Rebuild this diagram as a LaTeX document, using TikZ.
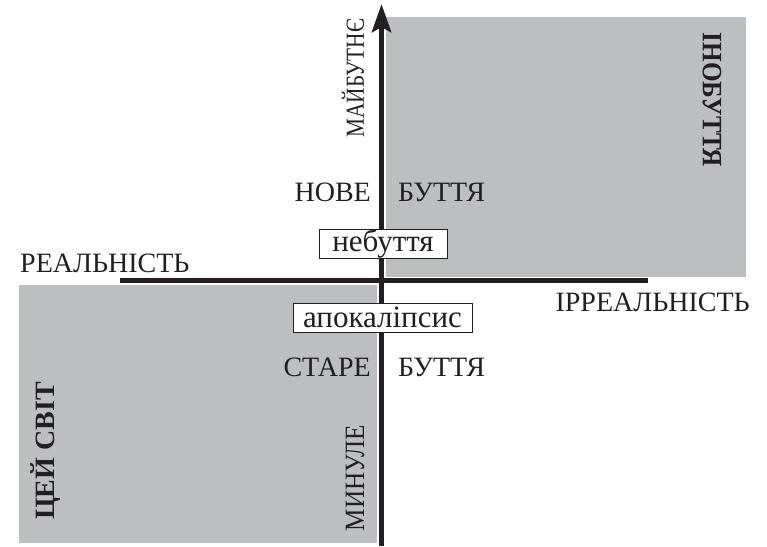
\documentclass[tikz,border=0pt]{standalone}
\usepackage{fontspec}
\setmainfont{Liberation Serif}
\usetikzlibrary{arrows.meta}
\definecolor{field}{HTML}{BCBEC0}
\definecolor{ink}{HTML}{231F20}
\newcommand{\squeeze}[2]{\scalebox{#1}[1]{#2}}
\begin{document}
\begin{tikzpicture}[x=1pt,y=-1pt,
  every node/.style={inner sep=0pt,text=ink,font=\fontsize{28}{32}\selectfont},
  axis/.style={draw=ink,line width=5.5pt},
  zone/.style={fill=field,draw=none},
  tag/.style={draw=ink,line width=0.9pt,fill=white,minimum height=29pt,
    font=\fontsize{31}{34}\selectfont},
  heavy/.style={font=\fontsize{28}{32}\selectfont\bfseries}]
\useasboundingbox (0,0) rectangle (767,546);
% shaded quadrants
\fill[zone] (386,17) rectangle (746,277);
\fill[zone] (19,285) rectangle (377,543);
% axes
\coordinate (west) at (120,280.5);
\coordinate (east) at (648,280.5);
\coordinate (south) at (381.5,546);
\coordinate (north) at (381.5,4);
\draw[axis] (west) -- (east);
\draw[axis,-{Stealth[length=28pt,width=19pt,inset=5pt]}] (south) -- (north);
% axis labels
\node[anchor=base west] (real) at (20,272) {РЕАЛЬНІСТЬ};
\node[anchor=base east] (irreal) at (750,311) {ІРРЕАЛЬНІСТЬ};
\node[rotate=90,font=\fontsize{26}{30}\selectfont] (future) at (353,78) {\squeeze{0.82}{МАЙБУТНЄ}};
\node[rotate=90] (past) at (355,478) {\squeeze{0.9}{МИНУЛЕ}};
% quadrant titles
\node[heavy,rotate=-90] (other) at (712,100) {\squeeze{0.9}{ІНОБУТТЯ}};
\node[heavy,rotate=90] (world) at (46,451) {ЦЕЙ СВІТ};
% being labels
\node[anchor=base east] (new) at (371,201) {НОВЕ};
\node[anchor=base west] (newb) at (398,201) {БУТТЯ};
\node[anchor=base east] (old) at (371,376) {СТАРЕ};
\node[anchor=base west] (oldb) at (398,376) {БУТТЯ};
% boxed terms
\node[tag,minimum width=128pt] (nonbeing) at (383,244) {небуття};
\node[tag,minimum width=179pt] (apoc) at (382.5,317.5) {апокаліпсис};
\end{tikzpicture}
\end{document}
